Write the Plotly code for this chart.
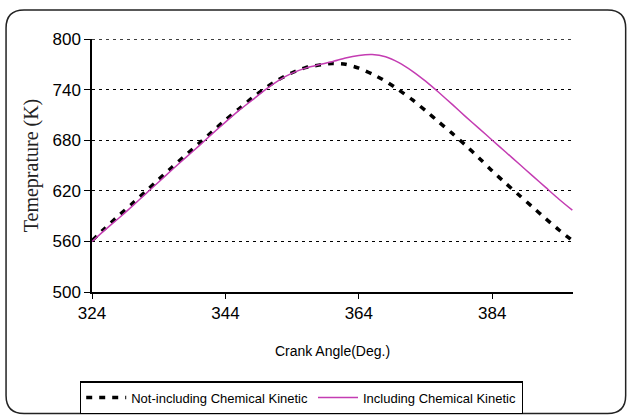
import plotly.graph_objects as go

# Crank angle (deg) and in-cylinder temperature (K)
angle = [324, 326, 328, 330, 332, 334, 336, 338, 340, 342, 344, 346, 348, 350,
         352, 354, 356, 358, 360, 362, 364, 366, 368, 370, 372, 374, 376, 378,
         380, 382, 384, 386, 388, 390, 392, 394, 396]

temp_no_kinetic = [561, 576, 590.5, 604.5, 619, 633.5, 648, 662, 676, 690, 704, 717, 730, 742,
                   752, 760, 766, 769, 771, 770, 765.5, 758.5, 750, 739.5, 728, 715, 701.5, 688,
                   674, 659, 643.5, 629, 615, 601, 587, 573.5, 561]

temp_kinetic = [560, 574, 587.5, 601.5, 616, 630.5, 645, 659, 673, 687.5, 701.5, 715, 727.5, 740,
                751, 759.5, 765.5, 769.5, 773, 777.5, 780.5, 781.5, 779, 772, 762, 750, 736.5, 722.5,
                708, 694, 680, 666, 652, 638, 624, 610, 597]

x_ticks = [324, 344, 364, 384]
y_ticks = [500, 560, 620, 680, 740, 800]

W, H = 629, 415
L, R, T, B = 92, 573.3, 39, 291.7


def px(x):
    return (x - L) / (R - L)


def py(y):
    return (B - y) / (B - T)


fig = go.Figure()
fig.add_trace(go.Scatter(
    x=angle, y=temp_no_kinetic, mode="lines",
    name="Not-including Chemical Kinetic",
    line=dict(color="black", width=3.5, dash="6px,7px", shape="spline", smoothing=0.6),
))
fig.add_trace(go.Scatter(
    x=angle, y=temp_kinetic, mode="lines",
    name="Including Chemical Kinetic",
    line=dict(color="#C43CB2", width=1.5, shape="spline", smoothing=0.6),
))

# rounded frame around the whole chart
x0, x1, y0, y1, r = px(6), px(626), py(10), py(413), 18
rx, ry = r / (R - L), r / (B - T)
frame = (f"M {x0},{y0 - ry} Q {x0},{y0} {x0 + rx},{y0} "
         f"L {x1 - rx},{y0} Q {x1},{y0} {x1},{y0 - ry} "
         f"L {x1},{y1 + ry} Q {x1},{y1} {x1 - rx},{y1} "
         f"L {x0 + rx},{y1} Q {x0},{y1} {x0},{y1 + ry} Z")
fig.add_shape(type="path", path=frame, xref="paper", yref="paper",
              line=dict(color="#222", width=1.5), layer="below")

# dotted gridline along the top of the temperature range
fig.add_shape(type="line", xref="paper", yref="y", x0=0, x1=1, y0=800, y1=800,
              line=dict(color="black", width=1.3, dash="3px,4px"), layer="below")

fig.update_layout(
    width=W, height=H,
    margin=dict(l=L, r=W - R, t=T, b=H - B, autoexpand=False),
    paper_bgcolor="white", plot_bgcolor="white",
    showlegend=True,
    legend=dict(
        orientation="h", x=px(80), y=py(381), xanchor="left", yanchor="top",
        bordercolor="black", borderwidth=1.2, bgcolor="white",
        font=dict(family="Liberation Sans Narrow, Arial Narrow, Liberation Sans, Arial",
                  size=13, color="black"),
        itemwidth=40, tracegroupgap=0,
    ),
    xaxis=dict(
        range=[324, 396.1], tickvals=x_ticks, showgrid=False, zeroline=False,
        showline=True, linecolor="black", linewidth=1.5,
        ticks="outside", ticklen=5, tickcolor="black",
        tickfont=dict(family="Liberation Sans, Arial", size=17, color="black"),
        title=dict(text="Crank Angle(Deg.)", standoff=24,
                   font=dict(family="Liberation Sans Narrow, Arial Narrow, Liberation Sans, Arial",
                             size=14, color="black")),
    ),
    yaxis=dict(
        range=[500, 800], tickvals=y_ticks, showgrid=True, gridcolor="black",
        gridwidth=1.3, griddash="3px,4px", zeroline=False,
        showline=True, linecolor="black", linewidth=1.5,
        ticks="outside", ticklen=6, tickcolor="black",
        tickfont=dict(family="Liberation Sans, Arial", size=17, color="black"),
        title=dict(text="Temeprature (K)", standoff=8,
                   font=dict(family="Liberation Serif, Times New Roman", size=20, color="#222")),
    ),
)

fig.write_html("out.html")
